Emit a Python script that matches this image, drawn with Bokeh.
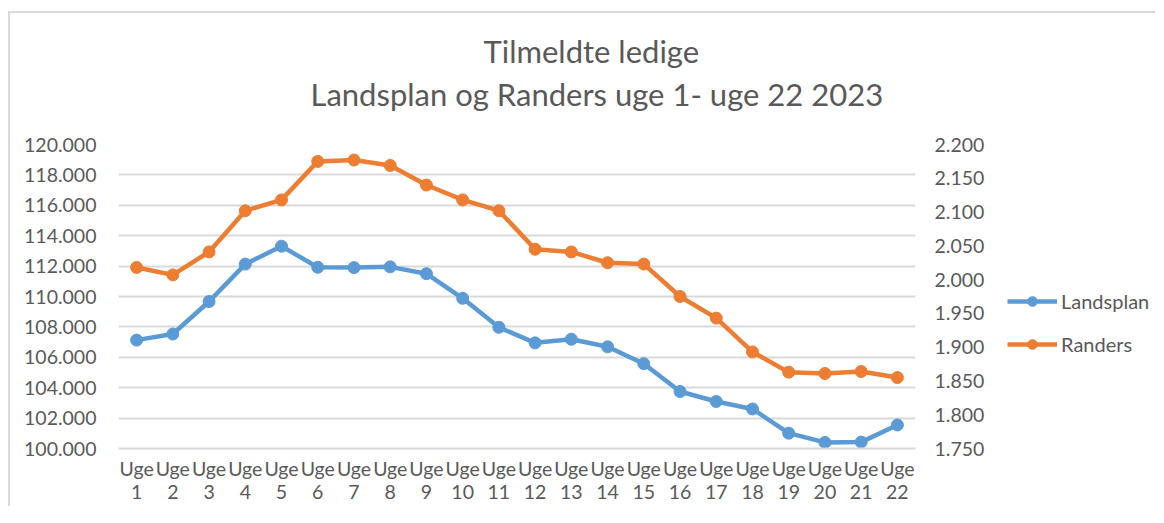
from bokeh.plotting import figure
from bokeh.layouts import row
from bokeh.models import (Range1d, LinearAxis, CategoricalAxis, SingleIntervalTicker,
                          CustomJSTickFormatter, Legend, LegendItem, Title, ColumnDataSource,
                          FactorRange)
from bokeh.embed import file_html
from bokeh.resources import INLINE

weeks = [f"Uge {i}" for i in range(1, 23)]
landsplan = [107130, 107530, 109670, 112130, 113310, 111920, 111900, 111950, 111500, 109880,
             107970, 106950, 107190, 106690, 105580, 103750, 103090, 102600, 101010, 100400,
             100420, 101550]
randers = [2018, 2007, 2041, 2102, 2118, 2175, 2177, 2169, 2140, 2118, 2102, 2045, 2041,
           2025, 2023, 1975, 1943, 1893, 1863, 1861, 1864, 1855]
title_lines = ["Tilmeldte ledige", "Landsplan og Randers uge 1- uge 22 2023"]
series_names = ["Landsplan", "Randers"]

BLUE = "#5B9BD5"
ORANGE = "#ED7D31"
GRID = "#d9d9d9"
TXT = "#595959"
FONT = "Lato"
TICK_FS = "19.5px"

src = ColumnDataSource(dict(week=weeks, land=landsplan, rand=randers))

p = figure(x_range=FactorRange(*weeks), y_range=Range1d(100000, 120000),
           frame_width=795, frame_height=302, output_backend="svg", toolbar_location=None,
           min_border_left=108, min_border_right=92, min_border_top=131, min_border_bottom=60)
p.margin = (11, 0, 0, 8)
p.styles = {"border-top": "2px solid #d9d9d9", "border-left": "2px solid #d9d9d9"}
p.outline_line_color = None
p.background_fill_color = "white"
p.border_fill_color = "white"

p.extra_y_ranges = {"r": Range1d(1750, 2200)}

fmt_k = CustomJSTickFormatter(code="return (tick/1000).toFixed(3);")

ya = p.yaxis[0]
ya.ticker = SingleIntervalTicker(interval=2000)
ya.formatter = fmt_k
ya.axis_line_color = None
ya.major_tick_line_color = None
ya.minor_tick_line_color = None
ya.major_label_text_font = FONT
ya.major_label_text_font_size = TICK_FS
ya.major_label_text_color = TXT
ya.major_label_standoff = 16

ra = LinearAxis(y_range_name="r", ticker=SingleIntervalTicker(interval=50), formatter=fmt_k)
ra.axis_line_color = None
ra.major_tick_line_color = None
ra.minor_tick_line_color = None
ra.major_label_text_font = FONT
ra.major_label_text_font_size = TICK_FS
ra.major_label_text_color = TXT
ra.major_label_standoff = 13
p.add_layout(ra, "right")

xa = p.xaxis[0]
xa.formatter = CustomJSTickFormatter(code="return String(tick).split(' ')[0];")
xa.axis_line_color = GRID
xa.axis_line_width = 2
xa.major_tick_line_color = None
xa.minor_tick_line_color = None
xa.major_label_text_font = FONT
xa.major_label_text_font_size = TICK_FS
xa.major_label_text_color = TXT
xa.major_label_standoff = 2
xa.major_label_orientation = "horizontal"

xb = CategoricalAxis(formatter=CustomJSTickFormatter(code="return String(tick).split(' ')[1];"))
xb.axis_line_color = None
xb.major_tick_line_color = None
xb.minor_tick_line_color = None
xb.major_label_text_font = FONT
xb.major_label_text_font_size = TICK_FS
xb.major_label_text_color = TXT
xb.major_label_standoff = -4
xb.major_label_orientation = "horizontal"
p.add_layout(xb, "below")

p.xgrid.grid_line_color = None
p.ygrid.grid_line_color = GRID
p.ygrid.grid_line_width = 2
p.x_range.range_padding = 0

p.line("week", "land", source=src, color=BLUE, line_width=4.5)
p.scatter("week", "land", source=src, color=BLUE, size=12)
p.line("week", "rand", source=src, color=ORANGE, line_width=4.5, y_range_name="r")
p.scatter("week", "rand", source=src, color=ORANGE, size=12, y_range_name="r")

p.add_layout(Title(text=title_lines[1], align="left", offset=192, text_font=FONT,
                   text_font_size="31px", text_color=TXT, text_font_style="normal",
                   standoff=64), "above")
p.add_layout(Title(text=title_lines[0], align="left", offset=365, text_font=FONT,
                   text_font_size="31px", text_color=TXT, text_font_style="normal",
                   standoff=-58), "above")

# legend panel (same series, drawn outside its visible range so only the legend shows)
q = figure(width=150, height=499, output_backend="svg", toolbar_location=None,
           x_range=Range1d(0, 1), y_range=Range1d(0, 1),
           min_border_left=0, min_border_right=0, min_border_top=0, min_border_bottom=0)
q.margin = (11, 0, 0, 0)
q.styles = {"border-top": "2px solid #d9d9d9"}
q.axis.visible = False
q.grid.grid_line_color = None
q.outline_line_color = None
q.border_fill_color = "white"
qsrc = ColumnDataSource(dict(i=list(range(len(weeks))), land=landsplan, rand=randers))
ql1 = q.line("i", "land", source=qsrc, color=BLUE, line_width=4.5)
qm1 = q.scatter("i", "land", source=qsrc, color=BLUE, size=12)
ql2 = q.line("i", "rand", source=qsrc, color=ORANGE, line_width=4.5)
qm2 = q.scatter("i", "rand", source=qsrc, color=ORANGE, size=12)

legend = Legend(items=[LegendItem(label=series_names[0], renderers=[ql1, qm1]),
                       LegendItem(label=series_names[1], renderers=[ql2, qm2])],
                location=(2, 96), orientation="vertical",
                label_text_font=FONT, label_text_font_size="20px", label_text_color=TXT,
                glyph_width=50, glyph_height=24, label_height=24, spacing=19,
                padding=0, margin=0, label_standoff=4,
                border_line_color=None, background_fill_alpha=0)
q.add_layout(legend, "center")

open("out.html", "w").write(file_html(row(p, q), INLINE))
